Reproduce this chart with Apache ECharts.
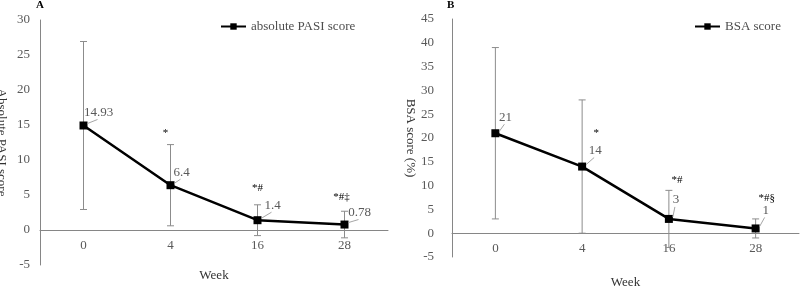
<!DOCTYPE html>
<html>
<head>
<meta charset="utf-8">
<script src="https://cdn.jsdelivr.net/npm/echarts@6/dist/echarts.min.js"></script>
<style>
  html, body { margin: 0; padding: 0; background: #fff; }
  #chart { width: 800px; height: 287px; }
</style>
</head>
<body>
<div id="chart"></div>
<script>
// data
const weeks = ['0', '4', '16', '28'];
const pasiMean = [14.93, 6.4, 1.4, 0.78];
const pasiSd = [12, 5.8, 2.2, 1.9];
const pasiLabels = ['14.93', '6.4', '1.4', '0.78'];
const pasiMarks = ['', '*', '*#', '*#‡'];
const bsaMean = [21, 14, 3, 1];
const bsaSd = [18, 14, 6, 2];
const bsaLabels = ['21', '14', '3', '1'];
const bsaMarks = ['', '*', '*#', '*#§'];

// label placement (px offsets from the point)
const pasiLabelOff = [[15, -13], [11, -13], [15, -15], [15, -12]];
const bsaLabelOff = [[10, -16], [13, -16], [7, -19], [10, -18]];
const pasiMarkOff = [[0, 0], [-5, -52], [0, -32], [-3, -27]];
const bsaMarkOff = [[0, 0], [14, -33], [8, -39], [11, -30]];

const FONT = '"Liberation Serif", "Times New Roman", serif';
const GRAY = '#595959';

const chart = echarts.init(document.getElementById('chart'));

function errData(mean, sd) {
  return mean.map((m, i) => [i, m - sd[i], m + sd[i]]);
}

function errSeries(idx, mean, sd) {
  return {
    type: 'custom',
    xAxisIndex: idx, yAxisIndex: idx,
    data: errData(mean, sd),
    encode: {x: 0, y: [1, 2]},
    z: 1,
    silent: true,
    renderItem(params, api) {
      const lo = api.coord([api.value(0), api.value(1)]);
      const hi = api.coord([api.value(0), api.value(2)]);
      const c = 3.5;
      const st = {stroke: '#8c8c8c', lineWidth: 1};
      return {
        type: 'group',
        children: [
          {type: 'line', shape: {x1: lo[0], y1: lo[1], x2: hi[0], y2: hi[1]}, style: st},
          {type: 'line', shape: {x1: hi[0] - c, y1: hi[1], x2: hi[0] + c, y2: hi[1]}, style: st},
          {type: 'line', shape: {x1: lo[0] - c, y1: lo[1], x2: lo[0] + c, y2: lo[1]}, style: st}
        ]
      };
    }
  };
}

function labelSeries(idx, mean, labels, labelOff, marks, markOff) {
  return {
    type: 'custom',
    xAxisIndex: idx, yAxisIndex: idx,
    data: mean.map((m, i) => [i, m]),
    encode: {x: 0, y: 1},
    z: 5,
    silent: true,
    renderItem(params, api) {
      const i = params.dataIndex;
      const p = api.coord([api.value(0), api.value(1)]);
      const [dx, dy] = labelOff[i];
      const children = [
        {type: 'line', shape: {x1: p[0] + 4, y1: p[1] - 2, x2: p[0] + dx - 1, y2: p[1] + dy + 7},
          style: {stroke: '#a6a6a6', lineWidth: 1}},
        {type: 'text', style: {text: labels[i], x: p[0] + dx, y: p[1] + dy,
          textAlign: 'center', textVerticalAlign: 'middle', align: 'center', verticalAlign: 'middle',
          fill: GRAY, font: '13px ' + FONT}}
      ];
      if (marks[i]) {
        const [mx, my] = markOff[i];
        children.push({type: 'text', style: {text: marks[i], x: p[0] + mx, y: p[1] + my,
          textAlign: 'center', textVerticalAlign: 'middle', align: 'center', verticalAlign: 'middle',
          fill: '#000', font: '11px ' + FONT}});
      }
      return {type: 'group', children};
    }
  };
}

function lineSeries(idx, name, mean) {
  return {
    name,
    type: 'line',
    xAxisIndex: idx, yAxisIndex: idx,
    data: mean,
    symbol: 'rect',
    symbolSize: 8,
    z: 3,
    itemStyle: {color: '#000'},
    lineStyle: {color: '#000', width: 2.5}
  };
}

// x axis drawn at value 0 by pulling it up from the grid bottom
function xAxis(idx, shift, gap) {
  return {
    type: 'category',
    gridIndex: idx,
    data: weeks,
    boundaryGap: true,
    position: 'bottom',
    offset: -shift,
    name: 'Week',
    nameLocation: 'middle',
    nameGap: gap,
    nameTextStyle: {fontFamily: FONT, fontSize: 13, color: '#333'},
    axisTick: {show: false},
    axisLine: {onZero: false, lineStyle: {color: '#868686', width: 1}},
    axisLabel: {fontFamily: FONT, fontSize: 13, color: GRAY, margin: 9}
  };
}

function yAxis(idx, name, max, gap, margin) {
  return {
    type: 'value',
    gridIndex: idx,
    min: -5, max, interval: 5,
    name,
    nameLocation: 'middle',
    nameGap: gap,
    nameRotate: -90,
    nameTextStyle: {fontFamily: FONT, fontSize: 13, color: '#333'},
    splitLine: {show: false},
    axisTick: {show: false},
    axisLine: {show: true, lineStyle: {color: '#868686', width: 1}},
    axisLabel: {fontFamily: FONT, fontSize: 13, color: GRAY, margin}
  };
}

chart.setOption({
  animation: false,
  backgroundColor: '#fff',
  title: [
    {text: 'A', left: 36, top: 0, padding: 0, textStyle: {fontFamily: FONT, fontSize: 11, fontWeight: 'bold', color: '#000'}},
    {text: 'B', left: 447, top: 0, padding: 0, textStyle: {fontFamily: FONT, fontSize: 11, fontWeight: 'bold', color: '#000'}}
  ],
  legend: [
    {data: ['absolute PASI score'], left: 220, top: 20, padding: 0, itemWidth: 25, itemHeight: 8, itemGap: 2,
      textStyle: {fontFamily: FONT, fontSize: 13, color: '#4d4d4d'}},
    {data: ['BSA score'], left: 694, top: 20, padding: 0, itemWidth: 25, itemHeight: 8, itemGap: 2,
      textStyle: {fontFamily: FONT, fontSize: 13, color: '#4d4d4d'}}
  ],
  grid: [
    {left: 40, width: 348, top: 20, bottom: 22, containLabel: false, outerBoundsMode: 'none'},
    {left: 452, width: 347, top: 19, bottom: 30, containLabel: false, outerBoundsMode: 'none'}
  ],
  xAxis: [xAxis(0, 35, 39), xAxis(1, 24, 43)],
  yAxis: [yAxis(0, 'Absolute PASI score', 30, 32, 10), yAxis(1, 'BSA score (%)', 45, 35, 18)],
  series: [
    errSeries(0, pasiMean, pasiSd),
    lineSeries(0, 'absolute PASI score', pasiMean),
    labelSeries(0, pasiMean, pasiLabels, pasiLabelOff, pasiMarks, pasiMarkOff),
    errSeries(1, bsaMean, bsaSd),
    lineSeries(1, 'BSA score', bsaMean),
    labelSeries(1, bsaMean, bsaLabels, bsaLabelOff, bsaMarks, bsaMarkOff)
  ]
});
</script>
</body>
</html>
